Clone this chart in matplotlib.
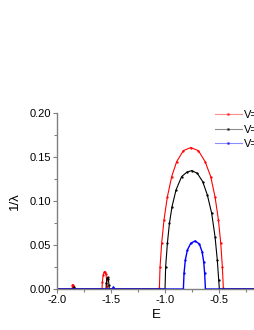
import numpy as np
import matplotlib
matplotlib.use('Agg')
import matplotlib.pyplot as plt
from matplotlib.lines import Line2D
from matplotlib.ticker import MultipleLocator, FormatStrFormatter

plt.rcParams['font.family'] = ['Liberation Sans', 'DejaVu Sans']
plt.rcParams['axes.unicode_minus'] = False

# values
E_red = [-2.0, -1.862, -1.860, -1.856, -1.852, -1.850,
         -1.586, -1.583, -1.575, -1.565, -1.558, -1.550, -1.543, -1.538, -1.537,
         -1.056, -1.055, -1.049, -1.034, -1.012, -0.981, -0.941, -0.895, -0.833,
         -0.765, -0.694, -0.632, -0.580, -0.540, -0.509, -0.487, -0.472, -0.463,
         -0.462, -0.1]
inv_red = [0, 0, 0.004, 0.005, 0.003, 0,
           0, 0.008, 0.016, 0.0195, 0.0197, 0.017, 0.010, 0.003, 0,
           0, 0.001, 0.025, 0.052, 0.079, 0.105, 0.128, 0.145, 0.1575,
           0.161, 0.1575, 0.145, 0.128, 0.105, 0.079, 0.052, 0.025, 0.001,
           0, 0]

E_black = [-2.0, -1.848, -1.845, -1.842,
           -1.549, -1.546, -1.540, -1.533, -1.527, -1.522, -1.519,
           -1.003, -0.997, -0.981, -0.962, -0.938, -0.901, -0.849, -0.802,
           -0.756, -0.704, -0.654, -0.611, -0.571, -0.540, -0.519, -0.506,
           -0.500, -0.1]
inv_black = [0, 0, 0.002, 0,
             0, 0.007, 0.012, 0.0135, 0.011, 0.005, 0,
             0, 0.0254, 0.052, 0.0748, 0.0938, 0.1128, 0.128, 0.1329,
             0.1348, 0.1317, 0.1222, 0.107, 0.0862, 0.0596, 0.033, 0.0103,
             0, 0]

E_blue = [-2.0, -1.483, -1.480, -1.477,
          -0.833, -0.827, -0.815, -0.796, -0.765, -0.725, -0.685, -0.660,
          -0.645, -0.636, -0.629, -0.1]
inv_blue = [0, 0, 0.002, 0,
            0, 0.0178, 0.033, 0.0444, 0.052, 0.0547, 0.0513, 0.0425,
            0.0311, 0.0178, 0, 0]

labels = ['V=', 'V=', 'V=']
colors = ['red', 'black', 'blue']
widths = [0.8, 0.8, 1.0]

fig = plt.figure(figsize=(2.55, 3.3), dpi=100)
ax = fig.add_axes([57.3 / 255, 1 - 289 / 330, (255 - 57.3) / 255, (289 - 113.3) / 330])

series = [(E_red, inv_red), (E_black, inv_black), (E_blue, inv_blue)]
for (x, y), c, w in zip(series, colors, widths):
    ax.plot(x, y, color=c, lw=w, marker='.', ms=1.3)

ax.set_xlim(-2.0, -0.17)
ax.set_ylim(0, 0.20)
ax.xaxis.set_major_locator(MultipleLocator(0.5))
ax.xaxis.set_minor_locator(MultipleLocator(0.25))
ax.yaxis.set_major_locator(MultipleLocator(0.05))
ax.yaxis.set_minor_locator(MultipleLocator(0.025))
ax.xaxis.set_major_formatter(FormatStrFormatter('%.1f'))
ax.yaxis.set_major_formatter(FormatStrFormatter('%.2f'))

for s in ['top', 'right']:
    ax.spines[s].set_visible(False)
for s in ['left', 'bottom']:
    ax.spines[s].set_color('#808080')
    ax.spines[s].set_linewidth(1.0)
ax.tick_params(which='major', direction='out', length=3, width=0.8, color='#808080',
               labelsize=8, pad=1.5)
ax.tick_params(which='minor', direction='out', length=2, width=0.8, color='#808080')

ax.set_xlabel('E', fontsize=9.5, labelpad=3)
ax.set_ylabel('1/λ', fontsize=9.5, labelpad=6)

handles = [Line2D([], [], color=c, lw=0.8, alpha=0.45, marker='.', ms=2.5,
                  markerfacecolor=c, markeredgecolor=c) for c in colors]
leg = ax.legend(handles, labels, loc='upper left', bbox_to_anchor=(215 / 255, 1 - 110 / 330),
                bbox_transform=fig.transFigure, frameon=False, fontsize=8,
                handlelength=2.4, handletextpad=0.2, labelspacing=0.42, borderaxespad=0,
                borderpad=0)

fig.savefig('out.png', dpi=100)
